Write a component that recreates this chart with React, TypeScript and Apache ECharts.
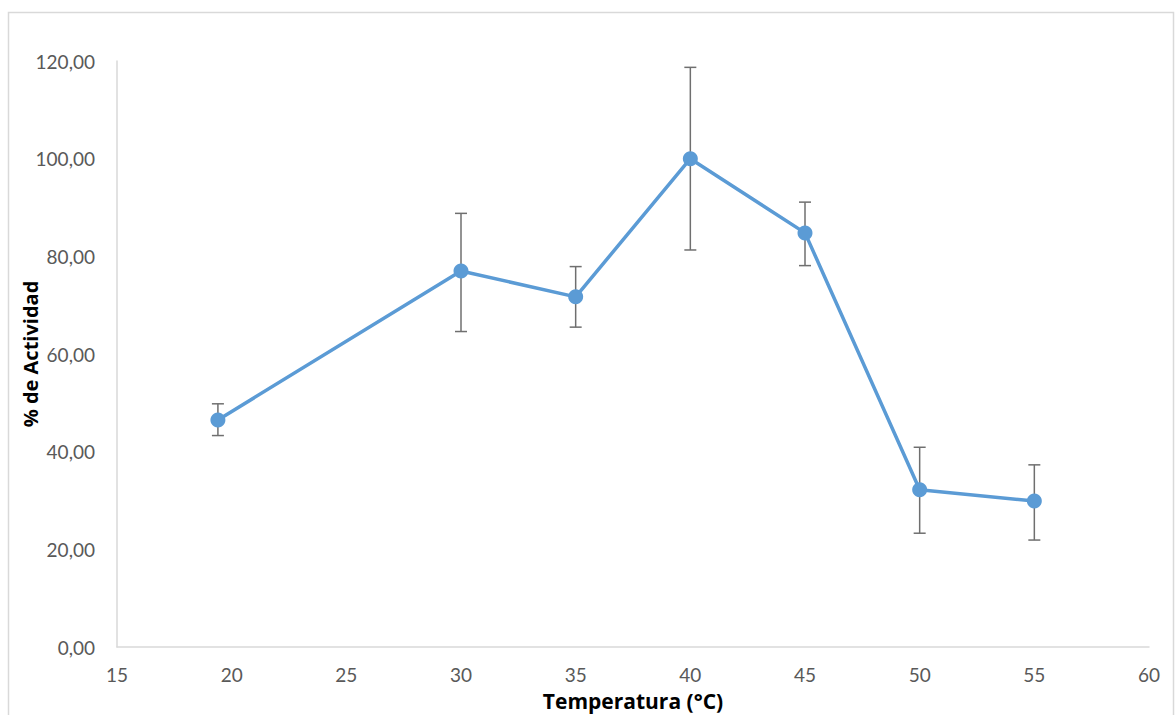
import React, { useEffect, useRef } from "react";
import * as echarts from "echarts";

const temperatures = [19.4, 30, 35, 40, 45, 50, 55];
const activity = [46.5, 77.0, 71.7, 100.0, 84.8, 32.2, 29.9];
const errLow = [43.3, 64.6, 65.5, 81.3, 78.1, 23.3, 21.9];
const errHigh = [49.8, 88.8, 77.9, 118.7, 91.1, 40.9, 37.3];

const xTitle = "Temperatura (°C)";
const yTitle = "% de Actividad";

export default function App() {
  const ref = useRef<HTMLDivElement>(null);
  useEffect(() => {
    const chart = echarts.init(ref.current!, null, { renderer: "svg" });
    const lineData = temperatures.map((t, i) => [t, activity[i]]);
    const errData = temperatures.map((t, i) => [t, errLow[i], errHigh[i]]);
    chart.setOption({
      animation: false,
      backgroundColor: "#ffffff",
      graphic: [
        {
          type: "rect",
          shape: { x: 8.5, y: 12.5, width: 1165, height: 720 },
          style: { fill: "none", stroke: "#d9d9d9", lineWidth: 1.5 },
          silent: true,
          z: -10,
        },
      ],
      grid: { left: 117, right: 27, top: 61, bottom: 68, containLabel: false, outerBoundsMode: "none" },
      xAxis: {
        type: "value",
        min: 15,
        max: 60,
        interval: 5,
        name: xTitle,
        nameLocation: "middle",
        nameGap: 43,
        nameMoveOverlap: false,
        nameTextStyle: { fontFamily: "Open Sans", fontWeight: "bold", fontSize: 21, color: "#000000", lineHeight: 21 },
        axisLine: { show: true, onZero: false, lineStyle: { color: "#d9d9d9", width: 1.5 } },
        axisTick: { show: false },
        splitLine: { show: false },
        axisLabel: { fontFamily: "Lato", fontSize: 19, color: "#595959", margin: 17, lineHeight: 20 },
      },
      yAxis: {
        type: "value",
        min: 0,
        max: 120,
        interval: 20,
        name: yTitle,
        nameLocation: "middle",
        nameGap: 77,
        nameMoveOverlap: false,
        nameTextStyle: { fontFamily: "Open Sans", fontWeight: "bold", fontSize: 20, color: "#000000" },
        axisLine: { show: true, lineStyle: { color: "#d9d9d9", width: 1.5 } },
        axisTick: { show: false },
        splitLine: { show: false },
        axisLabel: {
          fontFamily: "Lato",
          fontSize: 19,
          color: "#595959",
          margin: 22,
          formatter: (v: number) => v.toFixed(2).replace(".", ","),
        },
      },
      series: [
        {
          type: "custom",
          z: 1,
          data: errData,
          renderItem: (params: any, api: any) => {
            const x = api.value(0);
            const lo = api.coord([x, api.value(1)]);
            const hi = api.coord([x, api.value(2)]);
            const half = 6;
            const style = { stroke: "#6f6f6f", lineWidth: 1.5 };
            return {
              type: "group",
              children: [
                { type: "line", shape: { x1: lo[0], y1: lo[1], x2: hi[0], y2: hi[1] }, style },
                { type: "line", shape: { x1: hi[0] - half, y1: hi[1], x2: hi[0] + half, y2: hi[1] }, style },
                { type: "line", shape: { x1: lo[0] - half, y1: lo[1], x2: lo[0] + half, y2: lo[1] }, style },
              ],
            };
          },
        },
        {
          type: "line",
          z: 2,
          data: lineData,
          symbol: "circle",
          symbolSize: 15,
          lineStyle: { color: "#5b9bd5", width: 3.5 },
          itemStyle: { color: "#5b9bd5" },
        },
      ],
    });
    return () => chart.dispose();
  }, []);
  return (
    <div
      ref={ref}
      style={{ position: "fixed", left: 0, top: 0, width: 1176, height: 715 }}
    />
  );
}
